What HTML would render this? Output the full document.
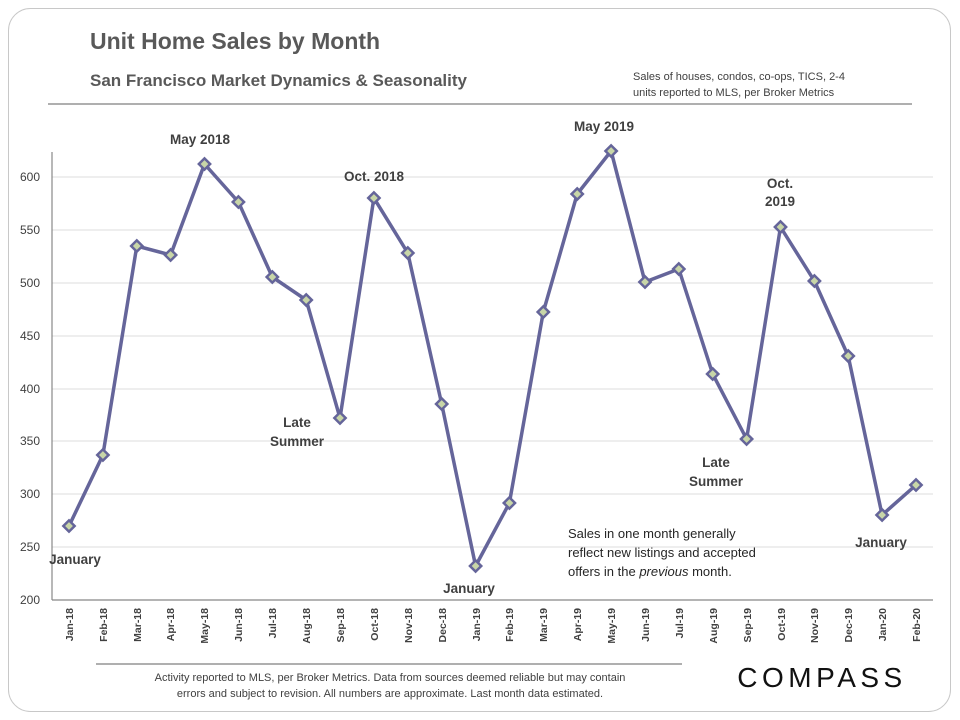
<!DOCTYPE html>
<html><head><meta charset="utf-8"><style>
body{margin:0;background:#fff;}
svg{display:block;font-family:"Liberation Sans",sans-serif;}
</style></head><body>
<svg width="960" height="720" viewBox="0 0 960 720">
<rect x="8.5" y="8.5" width="942" height="703" rx="22" fill="#fff" stroke="#c8c8c8" stroke-width="1"/>
<text x="90" y="49" font-size="23" font-weight="bold" fill="#595959">Unit Home Sales by Month</text>
<text x="90" y="86" font-size="17" font-weight="bold" fill="#595959">San Francisco Market Dynamics &amp; Seasonality</text>
<text x="633" y="80" font-size="11" fill="#404040">Sales of houses, condos, co-ops, TICS, 2-4</text>
<text x="633" y="96" font-size="11" fill="#404040">units reported to MLS, per Broker Metrics</text>
<line x1="48" y1="104" x2="912" y2="104" stroke="#7f7f7f" stroke-width="1.2"/>
<g stroke="#dcdcdc" stroke-width="1">
<line x1="52" y1="177" x2="933" y2="177"/><line x1="52" y1="230" x2="933" y2="230"/>
<line x1="52" y1="283" x2="933" y2="283"/><line x1="52" y1="336" x2="933" y2="336"/>
<line x1="52" y1="389" x2="933" y2="389"/><line x1="52" y1="441" x2="933" y2="441"/>
<line x1="52" y1="494" x2="933" y2="494"/><line x1="52" y1="547" x2="933" y2="547"/>
</g>
<line x1="52" y1="152" x2="52" y2="600" stroke="#888" stroke-width="1.2"/>
<line x1="52" y1="600" x2="933" y2="600" stroke="#888" stroke-width="1.2"/>
<g font-size="12" fill="#404040" text-anchor="end">
<text x="40" y="181">600</text><text x="40" y="234">550</text><text x="40" y="287">500</text>
<text x="40" y="340">450</text><text x="40" y="393">400</text><text x="40" y="445">350</text>
<text x="40" y="498">300</text><text x="40" y="551">250</text><text x="40" y="604">200</text>
</g>
<g font-size="10.5" font-weight="bold" fill="#404040" text-anchor="end">
<text transform="translate(73,608) rotate(-90)">Jan-18</text>
<text transform="translate(107,608) rotate(-90)">Feb-18</text>
<text transform="translate(141,608) rotate(-90)">Mar-18</text>
<text transform="translate(174,608) rotate(-90)">Apr-18</text>
<text transform="translate(208,608) rotate(-90)">May-18</text>
<text transform="translate(242,608) rotate(-90)">Jun-18</text>
<text transform="translate(276,608) rotate(-90)">Jul-18</text>
<text transform="translate(310,608) rotate(-90)">Aug-18</text>
<text transform="translate(344,608) rotate(-90)">Sep-18</text>
<text transform="translate(378,608) rotate(-90)">Oct-18</text>
<text transform="translate(412,608) rotate(-90)">Nov-18</text>
<text transform="translate(446,608) rotate(-90)">Dec-18</text>
<text transform="translate(480,608) rotate(-90)">Jan-19</text>
<text transform="translate(513,608) rotate(-90)">Feb-19</text>
<text transform="translate(547,608) rotate(-90)">Mar-19</text>
<text transform="translate(581,608) rotate(-90)">Apr-19</text>
<text transform="translate(615,608) rotate(-90)">May-19</text>
<text transform="translate(649,608) rotate(-90)">Jun-19</text>
<text transform="translate(683,608) rotate(-90)">Jul-19</text>
<text transform="translate(717,608) rotate(-90)">Aug-19</text>
<text transform="translate(751,608) rotate(-90)">Sep-19</text>
<text transform="translate(785,608) rotate(-90)">Oct-19</text>
<text transform="translate(818,608) rotate(-90)">Nov-19</text>
<text transform="translate(852,608) rotate(-90)">Dec-19</text>
<text transform="translate(886,608) rotate(-90)">Jan-20</text>
<text transform="translate(920,608) rotate(-90)">Feb-20</text>
</g>
<polyline fill="none" stroke="#65659a" stroke-width="3.5" stroke-linejoin="round" points="69,526 102.9,455 136.8,246 170.6,255 204.5,164 238.4,202 272.3,277 306.2,300 340,418 373.9,198 407.8,253 441.7,404 475.6,566 509.4,503 543.3,312 577.2,194 611.1,151 645,282 678.8,269 712.7,374 746.6,439 780.5,227 814.4,281 848.2,356 882.1,515 916,485"/>
<g fill="#c8d6a8" stroke="#65659a" stroke-width="2.5">
<rect x="-4" y="-4" width="8" height="8" transform="translate(69,526) rotate(45)"/>
<rect x="-4" y="-4" width="8" height="8" transform="translate(102.9,455) rotate(45)"/>
<rect x="-4" y="-4" width="8" height="8" transform="translate(136.8,246) rotate(45)"/>
<rect x="-4" y="-4" width="8" height="8" transform="translate(170.6,255) rotate(45)"/>
<rect x="-4" y="-4" width="8" height="8" transform="translate(204.5,164) rotate(45)"/>
<rect x="-4" y="-4" width="8" height="8" transform="translate(238.4,202) rotate(45)"/>
<rect x="-4" y="-4" width="8" height="8" transform="translate(272.3,277) rotate(45)"/>
<rect x="-4" y="-4" width="8" height="8" transform="translate(306.2,300) rotate(45)"/>
<rect x="-4" y="-4" width="8" height="8" transform="translate(340,418) rotate(45)"/>
<rect x="-4" y="-4" width="8" height="8" transform="translate(373.9,198) rotate(45)"/>
<rect x="-4" y="-4" width="8" height="8" transform="translate(407.8,253) rotate(45)"/>
<rect x="-4" y="-4" width="8" height="8" transform="translate(441.7,404) rotate(45)"/>
<rect x="-4" y="-4" width="8" height="8" transform="translate(475.6,566) rotate(45)"/>
<rect x="-4" y="-4" width="8" height="8" transform="translate(509.4,503) rotate(45)"/>
<rect x="-4" y="-4" width="8" height="8" transform="translate(543.3,312) rotate(45)"/>
<rect x="-4" y="-4" width="8" height="8" transform="translate(577.2,194) rotate(45)"/>
<rect x="-4" y="-4" width="8" height="8" transform="translate(611.1,151) rotate(45)"/>
<rect x="-4" y="-4" width="8" height="8" transform="translate(645,282) rotate(45)"/>
<rect x="-4" y="-4" width="8" height="8" transform="translate(678.8,269) rotate(45)"/>
<rect x="-4" y="-4" width="8" height="8" transform="translate(712.7,374) rotate(45)"/>
<rect x="-4" y="-4" width="8" height="8" transform="translate(746.6,439) rotate(45)"/>
<rect x="-4" y="-4" width="8" height="8" transform="translate(780.5,227) rotate(45)"/>
<rect x="-4" y="-4" width="8" height="8" transform="translate(814.4,281) rotate(45)"/>
<rect x="-4" y="-4" width="8" height="8" transform="translate(848.2,356) rotate(45)"/>
<rect x="-4" y="-4" width="8" height="8" transform="translate(882.1,515) rotate(45)"/>
<rect x="-4" y="-4" width="8" height="8" transform="translate(916,485) rotate(45)"/>
</g>
<g font-size="13.5" font-weight="bold" fill="#404040" text-anchor="middle">
<text x="200" y="144">May 2018</text>
<text x="374" y="181">Oct. 2018</text>
<text x="604" y="131">May 2019</text>
<text x="780" y="188">Oct.</text><text x="780" y="206">2019</text>
<text x="75" y="564">January</text>
<text x="469" y="593">January</text>
<text x="881" y="547">January</text>
<text x="297" y="427">Late</text><text x="297" y="446">Summer</text>
<text x="716" y="467">Late</text><text x="716" y="486">Summer</text>
</g>
<g font-size="13" fill="#262626">
<text x="568" y="538">Sales in one month generally</text>
<text x="568" y="557">reflect new listings and accepted</text>
<text x="568" y="576">offers in the <tspan font-style="italic">previous</tspan> month.</text>
</g>
<line x1="96" y1="664" x2="682" y2="664" stroke="#7f7f7f" stroke-width="1.2"/>
<g font-size="11" fill="#404040" text-anchor="middle">
<text x="390" y="681">Activity reported to MLS, per Broker Metrics. Data from sources deemed reliable but may contain</text>
<text x="390" y="697">errors and subject to revision. All numbers are approximate. Last month data estimated.</text>
</g>
<text x="822" y="687" font-size="28" fill="#111" text-anchor="middle" letter-spacing="4.5">COMPASS</text>
</svg>
</body></html>
